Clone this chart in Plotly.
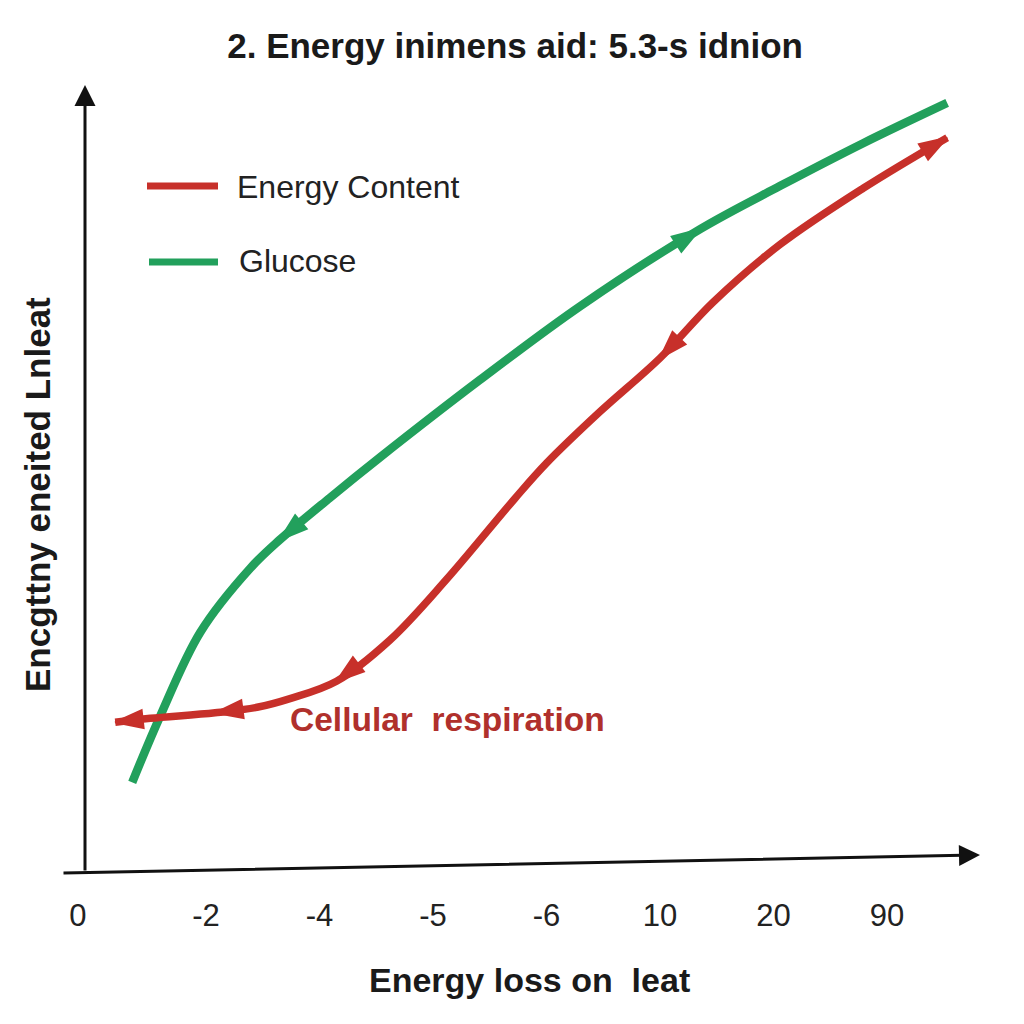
import plotly.graph_objects as go

# ---- data ----
tick_vals = [-0.13, 1, 2, 3, 4, 5, 6, 7]
tick_text = ["0", "-2", "-4", "-5", "-6", "10", "20", "90"]

green_x = [0.35, 0.60, 0.95, 1.39, 1.65, 2.09, 2.53, 3.41, 4.30, 5.35, 6.06, 6.79, 7.53]
green_y = [11.1, 19.6, 30.1, 38.2, 41.8, 47.1, 52.2, 62.0, 71.4, 81.1, 86.6, 92.0, 97.1]

red_x = [0.20, 0.51, 1.08, 1.45, 1.74, 2.15, 2.62, 3.12, 3.72, 4.00, 4.47, 5.00,
         5.47, 6.06, 6.79, 7.53]
red_y = [18.7, 19.2, 19.9, 20.6, 21.7, 23.9, 29.1, 36.8, 47.0, 51.5, 58.0, 64.8,
         71.9, 79.2, 86.3, 92.7]

# arrow markers: (index on curve, points forward?)
green_arrows = [(4, False), (9, True)]
red_arrows = [(0, False), (2, False), (5, False), (11, False), (15, True)]

series_names = ["Energy Content", "Glucose"]
title_text = "2. Energy inimens aid: 5.3-s idnion"
x_title = "Energy loss on  leat"
y_title = "Encgttny eneited Lnleat"
label_text = "Cellular  respiration"

GREEN = "#22a05c"
RED = "#c7302a"
FONT = "Liberation Sans, Arial, sans-serif"

fig = go.Figure()

fig.add_trace(go.Scatter(x=green_x, y=green_y, mode="lines",
                         line=dict(color=GREEN, width=8.5, shape="spline", smoothing=1.0),
                         showlegend=False, hoverinfo="skip"))
fig.add_trace(go.Scatter(x=red_x, y=red_y, mode="lines",
                         line=dict(color=RED, width=7.5, shape="spline", smoothing=1.0),
                         showlegend=False, hoverinfo="skip"))


def arrow_trace(xs, ys, idx, forward, color, size):
    j = idx - 1 if forward else idx + 1
    return go.Scatter(x=[xs[j], xs[idx]], y=[ys[j], ys[idx]], mode="markers",
                      marker=dict(symbol="arrow", size=[0, size], color=color, opacity=1,
                                  angleref="previous",
                                  line=dict(color=color, width=2)),
                      opacity=1, showlegend=False, hoverinfo="skip")


for idx, fwd in green_arrows:
    fig.add_trace(arrow_trace(green_x, green_y, idx, fwd, GREEN, 29))
for idx, fwd in red_arrows:
    fig.add_trace(arrow_trace(red_x, red_y, idx, fwd, RED, 29))

# plot area: px 60..984 horizontally, 80..870 vertically
L, R, T, B = 60, 40, 80, 154
W = 1024 - L - R
H = 1024 - T - B


def px(xp):
    return (xp - L) / W


def py(yp):
    return (1024 - B - yp) / H


annotations = []
# axis arrows
annotations.append(dict(xref="paper", yref="paper", x=px(85), y=py(85), ax=0, ay=787,
                        axref="pixel", ayref="pixel", text="", showarrow=True,
                        arrowhead=2, arrowsize=1.4, arrowwidth=3, arrowcolor="#111111"))
annotations.append(dict(xref="paper", yref="paper", x=px(980), y=py(855), ax=-918, ay=18,
                        axref="pixel", ayref="pixel", text="", showarrow=True,
                        arrowhead=2, arrowsize=1.4, arrowwidth=3, arrowcolor="#111111"))
# legend texts
annotations.append(dict(xref="paper", yref="paper", x=px(235), y=py(187), text=series_names[0],
                        showarrow=False, xanchor="left", yanchor="middle",
                        font=dict(family=FONT, size=32, color="#222222")))
annotations.append(dict(xref="paper", yref="paper", x=px(237), y=py(261), text=series_names[1],
                        showarrow=False, xanchor="left", yanchor="middle",
                        font=dict(family=FONT, size=32, color="#222222")))
# curve label
annotations.append(dict(xref="paper", yref="paper", x=px(288), y=py(719), text=label_text,
                        showarrow=False, xanchor="left", yanchor="middle",
                        font=dict(family=FONT, size=33.5, color="#b0302c", weight="bold")))
# axis titles
annotations.append(dict(xref="paper", yref="paper", x=px(529), y=py(980), text=x_title,
                        showarrow=False, xanchor="center", yanchor="middle",
                        font=dict(family=FONT, size=34, color="#1a1a1a", weight="bold")))
annotations.append(dict(xref="paper", yref="paper", x=px(37), y=py(495), text=y_title,
                        showarrow=False, xanchor="center", yanchor="middle", textangle=-90,
                        font=dict(family=FONT, size=35, color="#1a1a1a", weight="bold")))

shapes = [
    dict(type="line", xref="paper", yref="paper", x0=px(147), x1=px(218), y0=py(186), y1=py(186),
         line=dict(color=RED, width=7)),
    dict(type="line", xref="paper", yref="paper", x0=px(149), x1=px(218), y0=py(262), y1=py(262),
         line=dict(color=GREEN, width=7)),
]

x_lo = (L - 92.5) / 113.5
x_hi = (1024 - R - 92.5) / 113.5

fig.update_layout(
    width=1024, height=1024,
    margin=dict(l=L, r=R, t=T, b=B),
    paper_bgcolor="white", plot_bgcolor="white",
    title=dict(text=title_text, x=0.503, xanchor="center", y=1 - 46 / 1024, yanchor="middle",
               font=dict(family=FONT, size=35, color="#1a1a1a", weight="bold")),
    xaxis=dict(range=[x_lo, x_hi], tickmode="array", tickvals=tick_vals, ticktext=tick_text,
               showgrid=False, zeroline=False, showline=False, ticks="",
               ticklabelstandoff=24,
               tickfont=dict(family=FONT, size=31, color="#222222")),
    yaxis=dict(range=[0, 100], showgrid=False, zeroline=False, showline=False,
               showticklabels=False, ticks=""),
    annotations=annotations,
    shapes=shapes,
    showlegend=False,
)

fig.write_html("out.html")
